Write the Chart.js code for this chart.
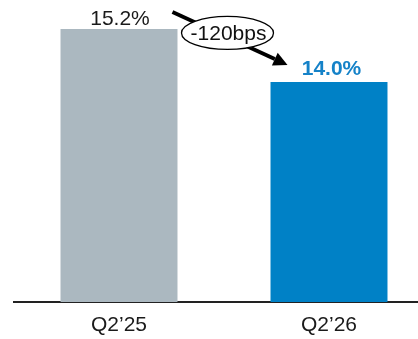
<!DOCTYPE html>
<html>
<head>
<meta charset="utf-8">
<script src="https://cdn.jsdelivr.net/npm/chart.js@4"></script>
<style>
  html, body { margin: 0; padding: 0; background: #fff; overflow: hidden; }
  body { width: 418px; height: 339px; }
  #wrap { width: 434px; height: 339px; position: relative; }
</style>
</head>
<body>
<div id="wrap"><canvas id="c"></canvas></div>
<script>
const categories = ['Q2\u201925', 'Q2\u201926'];
const marginValues = [15.2, 14.0];
const valueLabels = ['15.2%', '14.0%'];
const changeLabel = '-120bps';
const barColors = ['#abb8c0', '#0081c6'];
const labelColors = ['#1a1a1a', '#1582c8'];
const labelWeights = ['normal', 'bold'];

const FONT = '"Liberation Sans", Arial, sans-serif';

// Value labels above each bar plus the change bubble with its arrow.
const annotatePlugin = {
  id: 'annotate',
  afterDatasetsDraw(chart) {
    const ctx = chart.ctx;
    const bars = chart.getDatasetMeta(0).data;
    ctx.save();
    ctx.textAlign = 'center';
    ctx.textBaseline = 'alphabetic';
    bars.forEach((bar, i) => {
      ctx.font = labelWeights[i] + ' 21px ' + FONT;
      ctx.fillStyle = labelColors[i];
      const gap = i === 0 ? 4 : 6.5;
      const dx = i === 0 ? 1 : 2.5;
      ctx.fillText(valueLabels[i], bar.x + dx, bar.y - gap);
    });

    const b1 = bars[0], b2 = bars[1];
    const sx = b1.x + b1.width / 2 - 5, sy = b1.y - 17;
    const tx = b2.x - b2.width / 2 + 17, ty = b2.y - 17;
    const ang = Math.atan2(ty - sy, tx - sx);
    const headLen = 14, headHalf = 7;
    const bx = tx - headLen * Math.cos(ang), by = ty - headLen * Math.sin(ang);

    // shaft
    ctx.strokeStyle = '#000';
    ctx.lineWidth = 4;
    ctx.lineCap = 'butt';
    ctx.beginPath();
    ctx.moveTo(sx, sy);
    ctx.lineTo(bx, by);
    ctx.stroke();
    // head
    ctx.fillStyle = '#000';
    ctx.beginPath();
    ctx.moveTo(tx, ty);
    ctx.lineTo(bx + headHalf * Math.sin(ang), by - headHalf * Math.cos(ang));
    ctx.lineTo(bx - headHalf * Math.sin(ang), by + headHalf * Math.cos(ang));
    ctx.closePath();
    ctx.fill();

    // bubble
    const cx = (sx + tx) / 2 - 2.5, cy = (sy + ty) / 2 - 5.5;
    ctx.beginPath();
    ctx.ellipse(cx, cy, 46, 16.5, 0, 0, Math.PI * 2);
    ctx.fillStyle = '#fff';
    ctx.fill();
    ctx.lineWidth = 1.3;
    ctx.strokeStyle = '#000';
    ctx.stroke();
    ctx.fillStyle = '#111';
    ctx.font = '21px ' + FONT;
    ctx.textBaseline = 'middle';
    ctx.fillText(changeLabel, cx + 1, cy + 1);
    ctx.restore();
  }
};

new Chart(document.getElementById('c'), {
  type: 'bar',
  data: {
    labels: categories,
    datasets: [{
      data: marginValues,
      backgroundColor: barColors,
      borderWidth: 0,
      categoryPercentage: 1,
      barPercentage: 0.557
    }]
  },
  options: {
    responsive: true,
    maintainAspectRatio: false,
    animation: false,
    layout: { padding: { left: 14, right: 0, top: 0, bottom: 0 } },
    plugins: { legend: { display: false }, tooltip: { enabled: false } },
    scales: {
      y: { display: false, min: 9, max: 15.86 },
      x: {
        offset: true,
        grid: { display: false, drawTicks: false },
        border: { display: true, color: '#222', width: 2 },
        ticks: { color: '#1a1a1a', padding: 11, font: { family: FONT, size: 21 } },
        afterFit(axis) { axis.height = 37; }
      }
    }
  },
  plugins: [annotatePlugin]
});
</script>
</body>
</html>
